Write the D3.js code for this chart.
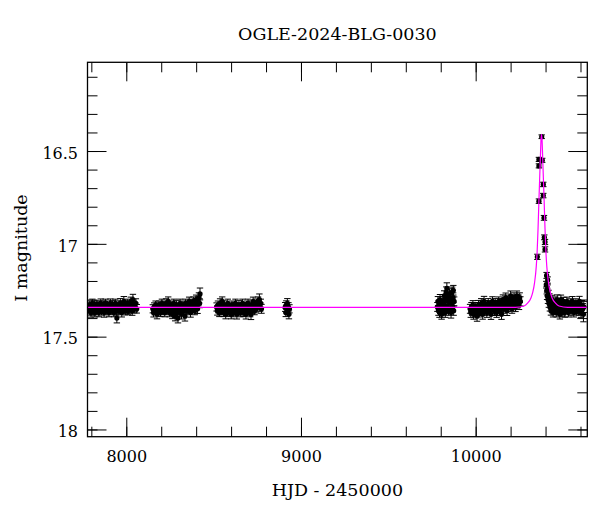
<!DOCTYPE html>
<html><head><meta charset="utf-8">
<script src="https://cdn.jsdelivr.net/npm/d3@7"></script>
<style>body{margin:0;background:#fff} svg{display:block} text{font-family:"DejaVu Serif",serif;fill:#000}</style>
</head><body><svg id="c" width="600" height="512"></svg>
<script>
const title = "OGLE-2024-BLG-0030";
const xLabel = "HJD - 2450000";
const yLabel = "I magnitude";
const xTicks = [8000, 9000, 10000];
const yTicks = [16.5, 17, 17.5, 18];
const yTickLabels = ["16.5", "17", "17.5", "18"];
const xDomain = [7778, 10639];
const yDomain = [16.022, 18.039];

// [HJD-2450000, I mag, error]
const season1 = [[7784,17.34,.022],[7788,17.36,.024],[7791,17.33,.022],[7795,17.35,.023],[7798,17.37,.025],[7802,17.34,.022],[7806,17.32,.022],[7809,17.36,.024],[7813,17.35,.022],[7817,17.33,.023],[7820,17.37,.024],[7824,17.34,.022],[7828,17.36,.023],[7832,17.33,.022],[7835,17.35,.022],[7839,17.34,.024],[7843,17.37,.023],[7847,17.33,.022],[7850,17.35,.022],[7854,17.32,.023],[7858,17.36,.024],[7862,17.34,.022],[7866,17.35,.022],[7869,17.33,.023],[7873,17.37,.025],[7877,17.34,.022],[7881,17.32,.022],[7885,17.36,.023],[7889,17.35,.022],[7893,17.33,.022],[7897,17.34,.024],[7901,17.37,.023],[7905,17.35,.022],[7909,17.32,.023],[7913,17.36,.022],[7917,17.34,.022],[7921,17.33,.024],[7925,17.35,.022],[7929,17.37,.023],[7933,17.34,.022],[7937,17.32,.022],[7941,17.36,.024],[7946,17.40,.026],[7950,17.35,.022],[7954,17.33,.023],[7958,17.36,.022],[7962,17.34,.022],[7966,17.32,.025],[7970,17.35,.022],[7974,17.37,.024],[7978,17.33,.022],[7982,17.35,.022],[7986,17.31,.026],[7990,17.34,.022],[7994,17.36,.023],[7998,17.33,.022],[8002,17.35,.024],[8006,17.32,.022],[8010,17.36,.022],[8014,17.34,.023],[8018,17.33,.022],[8022,17.35,.024],[8026,17.31,.023],[8030,17.34,.022],[8034,17.36,.025],[8038,17.30,.028],[8041,17.33,.022],[8045,17.35,.022],[8050,17.34,.023],[8055,17.32,.024],[8060,17.35,.023]];
const season2 = [[8152,17.35,.022],[8156,17.37,.024],[8160,17.34,.022],[8164,17.36,.023],[8168,17.33,.022],[8172,17.35,.022],[8176,17.38,.024],[8180,17.34,.022],[8184,17.36,.023],[8188,17.33,.022],[8192,17.35,.024],[8196,17.37,.022],[8200,17.34,.023],[8204,17.32,.022],[8208,17.36,.022],[8212,17.35,.024],[8216,17.33,.022],[8220,17.37,.023],[8224,17.34,.022],[8228,17.32,.024],[8232,17.36,.022],[8236,17.35,.022],[8240,17.31,.024],[8244,17.34,.022],[8248,17.37,.023],[8252,17.35,.022],[8256,17.33,.022],[8260,17.36,.024],[8264,17.38,.023],[8268,17.34,.022],[8272,17.32,.022],[8276,17.36,.023],[8280,17.39,.025],[8284,17.35,.022],[8288,17.33,.024],[8292,17.37,.022],[8296,17.40,.026],[8300,17.34,.022],[8304,17.36,.023],[8308,17.32,.022],[8312,17.35,.024],[8316,17.38,.025],[8320,17.34,.022],[8324,17.33,.022],[8328,17.36,.023],[8332,17.35,.024],[8336,17.39,.026],[8340,17.32,.022],[8344,17.34,.023],[8348,17.36,.022],[8352,17.33,.022],[8356,17.35,.024],[8360,17.31,.023],[8364,17.34,.022],[8368,17.37,.025],[8372,17.33,.022],[8376,17.32,.022],[8380,17.35,.023],[8384,17.31,.024],[8388,17.34,.022],[8392,17.36,.022],[8396,17.32,.023],[8400,17.30,.024],[8404,17.33,.022],[8408,17.35,.025],[8412,17.31,.024],[8416,17.29,.026],[8420,17.32,.024],[8422,17.27,.032]];
const season3 = [[8517,17.34,.022],[8521,17.36,.024],[8525,17.33,.022],[8529,17.35,.023],[8533,17.37,.022],[8537,17.32,.024],[8541,17.34,.022],[8545,17.36,.023],[8549,17.31,.024],[8553,17.35,.022],[8557,17.37,.022],[8561,17.33,.023],[8565,17.35,.022],[8569,17.38,.024],[8573,17.34,.022],[8577,17.36,.023],[8581,17.32,.022],[8585,17.35,.024],[8589,17.37,.022],[8593,17.34,.022],[8597,17.36,.023],[8601,17.38,.024],[8605,17.33,.022],[8609,17.35,.022],[8613,17.37,.023],[8617,17.34,.022],[8621,17.36,.024],[8625,17.32,.022],[8629,17.35,.023],[8633,17.38,.025],[8637,17.34,.022],[8641,17.36,.022],[8645,17.33,.024],[8649,17.35,.022],[8653,17.37,.023],[8657,17.34,.022],[8661,17.36,.024],[8665,17.32,.022],[8669,17.35,.023],[8673,17.37,.022],[8677,17.34,.024],[8681,17.36,.022],[8685,17.38,.025],[8689,17.33,.022],[8693,17.35,.023],[8697,17.32,.022],[8701,17.36,.024],[8705,17.34,.022],[8709,17.37,.023],[8714,17.38,.028],[8718,17.33,.022],[8722,17.35,.024],[8726,17.31,.023],[8730,17.34,.022],[8734,17.36,.022],[8738,17.33,.024],[8742,17.35,.022],[8746,17.32,.023],[8750,17.34,.022],[8754,17.31,.024],[8758,17.33,.022],[8762,17.30,.030],[8766,17.34,.023],[8770,17.32,.022],[8774,17.35,.024]];
const season4 = [[8910,17.34,.024],[8913,17.37,.022],[8916,17.33,.023],[8919,17.35,.022],[8922,17.32,.025],[8925,17.36,.022],[8928,17.34,.023],[8931,17.38,.024],[8934,17.35,.022]];
const season5 = [[9781,17.34,.024],[9784,17.31,.026],[9787,17.36,.025],[9790,17.33,.024],[9793,17.37,.026],[9796,17.30,.027],[9799,17.35,.024],[9802,17.32,.025],[9805,17.38,.026],[9808,17.34,.024],[9811,17.36,.025],[9814,17.31,.026],[9817,17.35,.024],[9820,17.28,.027],[9823,17.33,.025],[9826,17.37,.026],[9829,17.30,.025],[9832,17.26,.028],[9835,17.24,.030],[9838,17.34,.025],[9841,17.29,.026],[9844,17.36,.025],[9847,17.31,.026],[9850,17.27,.028],[9853,17.35,.024],[9856,17.30,.026],[9859,17.37,.030],[9862,17.32,.025],[9865,17.26,.027],[9868,17.34,.024],[9871,17.29,.026],[9872,17.25,.026],[9874,17.36,.025],[9877,17.31,.024]];
const season6 = [[9968,17.35,.024],[9972,17.37,.026],[9976,17.34,.024],[9980,17.36,.025],[9984,17.33,.024],[9988,17.38,.026],[9992,17.35,.024],[9996,17.37,.025],[10000,17.34,.024],[10004,17.36,.026],[10008,17.39,.027],[10012,17.35,.024],[10016,17.33,.025],[10020,17.37,.024],[10024,17.34,.024],[10028,17.36,.026],[10032,17.32,.025],[10036,17.35,.024],[10040,17.38,.026],[10044,17.34,.024],[10048,17.31,.027],[10052,17.36,.025],[10056,17.33,.024],[10060,17.35,.024],[10064,17.37,.026],[10068,17.34,.024],[10072,17.32,.025],[10076,17.36,.024],[10080,17.33,.024],[10084,17.35,.026],[10088,17.38,.027],[10092,17.34,.024],[10096,17.31,.025],[10100,17.35,.024],[10104,17.33,.024],[10108,17.36,.026],[10112,17.32,.025],[10116,17.34,.024],[10120,17.37,.026],[10124,17.33,.024],[10128,17.35,.025],[10132,17.31,.024],[10136,17.34,.024],[10140,17.36,.026],[10144,17.32,.025],[10148,17.38,.027],[10152,17.33,.024],[10156,17.30,.025],[10160,17.35,.024],[10164,17.32,.024],[10168,17.34,.026],[10172,17.29,.025],[10176,17.33,.024],[10180,17.36,.026],[10184,17.31,.024],[10188,17.34,.025],[10192,17.30,.024],[10196,17.33,.024],[10200,17.28,.026],[10204,17.32,.025],[10208,17.35,.024],[10212,17.30,.024],[10216,17.33,.025],[10220,17.29,.026],[10224,17.32,.024],[10228,17.34,.025],[10232,17.30,.024],[10236,17.28,.026],[10240,17.32,.024],[10244,17.30,.025],[10248,17.33,.024],[10252,17.29,.026],[10256,17.31,.025]];
const season7 = [[10353,17.07,.014],[10362,16.77,.012],[10362,16.545,.011],[10362,16.58,.011],[10378,16.423,.010],[10381,16.55,.011],[10387,16.68,.012],[10387,16.74,.012],[10391,16.86,.013],[10393,16.965,.013],[10397,16.99,.014],[10397,17.03,.014],[10406,17.17,.016],[10412,17.195,.017],[10404,17.22,.018],[10407,17.25,.02],[10409,17.28,.02],[10412,17.24,.019],[10414,17.30,.021],[10417,17.27,.02],[10419,17.32,.022],[10422,17.29,.021],[10425,17.34,.022],[10428,17.31,.022],[10431,17.36,.024],[10434,17.33,.022],[10437,17.30,.023],[10440,17.35,.022],[10443,17.37,.024],[10446,17.32,.022],[10449,17.34,.023],[10452,17.36,.022],[10455,17.31,.024],[10458,17.35,.022],[10461,17.33,.023],[10464,17.37,.024],[10467,17.30,.025],[10470,17.34,.022],[10473,17.36,.023],[10476,17.32,.022],[10479,17.35,.024],[10482,17.38,.025],[10485,17.33,.022],[10488,17.30,.024],[10491,17.35,.022],[10494,17.37,.023],[10497,17.33,.022],[10500,17.36,.024],[10503,17.31,.022],[10506,17.34,.023],[10510,17.37,.025],[10514,17.33,.022],[10518,17.35,.024],[10522,17.31,.023],[10526,17.34,.022],[10530,17.37,.024],[10534,17.33,.023],[10538,17.35,.022],[10542,17.32,.024],[10546,17.36,.025],[10550,17.33,.022],[10554,17.31,.026],[10558,17.35,.023],[10562,17.37,.024],[10566,17.33,.022],[10570,17.35,.025],[10574,17.32,.024],[10578,17.36,.023],[10582,17.34,.026],[10586,17.33,.024],[10590,17.36,.025],[10594,17.31,.027],[10598,17.35,.024],[10603,17.37,.026],[10608,17.33,.025],[10613,17.35,.028],[10617,17.38,.040],[10619,17.34,.030]];

// model curve: [HJD-2450000, I mag]
const model = [[7700,17.342],[10227,17.342],[10277,17.335],[10297,17.32],[10317,17.29],[10327,17.26],[10337,17.21],[10347,17.12],[10352,17.04],[10357,16.92],[10362,16.77],[10367,16.63],[10371,16.52],[10374,16.44],[10377,16.41],[10380,16.44],[10383,16.52],[10387,16.63],[10392,16.77],[10397,16.92],[10402,17.04],[10407,17.12],[10417,17.21],[10427,17.26],[10437,17.29],[10457,17.32],[10477,17.335],[10527,17.342],[10700,17.342]];

const svg = d3.select("#c");
const L = 87.5, R = 587.3, T = 62.3, B = 436.7;
const x = d3.scaleLinear().domain(xDomain).range([L, R]);
const y = d3.scaleLinear().domain(yDomain).range([T, B]);

svg.append("defs").append("clipPath").attr("id","clip")
  .append("rect").attr("x",L).attr("y",T).attr("width",R-L).attr("height",B-T);

const data = [].concat(season1, season2, season3, season4, season5, season6, season7);

const pts = svg.append("g").attr("clip-path","url(#clip)");
const cap = 3.2;
const eb = pts.append("g").attr("stroke","#000").attr("stroke-width",1).attr("fill","none");
data.forEach(d => {
  const px = x(d[0]), y1 = y(d[1]-d[2]), y2 = y(d[1]+d[2]);
  eb.append("path").attr("d", `M${px},${y1}V${y2}M${px-cap},${y1}H${px+cap}M${px-cap},${y2}H${px+cap}`);
});
pts.append("g").selectAll("circle").data(data).join("circle")
  .attr("cx", d => x(d[0])).attr("cy", d => y(d[1])).attr("r", 2.6).attr("fill","#000");

pts.append("path").datum(model)
  .attr("d", d3.line().x(d => x(d[0])).y(d => y(d[1])).curve(d3.curveMonotoneX))
  .attr("fill","none").attr("stroke","#ff00ff").attr("stroke-width",1.2);

// axes
const xMinor = d3.range(7800, 10601, 200);
const yMinor = d3.range(16.1, 18.01, 0.1).map(v => +v.toFixed(2));
function style(g){ g.select(".domain").remove(); g.selectAll("line").attr("stroke","#000").attr("stroke-width",1); }

svg.append("g").attr("transform",`translate(0,${B})`)
  .call(d3.axisBottom(x).tickValues(xMinor).tickSize(-10).tickFormat("")).call(style);
svg.append("g").attr("transform",`translate(0,${B})`)
  .call(d3.axisBottom(x).tickValues(xTicks).tickSize(-19).tickPadding(13.5).tickFormat(d3.format("d"))).call(style)
  .selectAll("text").attr("font-size",16).attr("font-family","DejaVu Serif");
svg.append("g").attr("transform",`translate(0,${T})`)
  .call(d3.axisTop(x).tickValues(xMinor).tickSize(-10).tickFormat("")).call(style);
svg.append("g").attr("transform",`translate(0,${T})`)
  .call(d3.axisTop(x).tickValues(xTicks).tickSize(-19).tickFormat("")).call(style);

svg.append("g").attr("transform",`translate(${L},0)`)
  .call(d3.axisLeft(y).tickValues(yMinor).tickSize(-10).tickFormat("")).call(style);
svg.append("g").attr("transform",`translate(${L},0)`)
  .call(d3.axisLeft(y).tickValues(yTicks).tickSize(-19).tickPadding(9.5).tickFormat((d,i) => yTickLabels[i])).call(style)
  .selectAll("text").attr("font-size",16).attr("font-family","DejaVu Serif").attr("dy","0.45em");
svg.append("g").attr("transform",`translate(${R},0)`)
  .call(d3.axisRight(y).tickValues(yMinor).tickSize(-10).tickFormat("")).call(style);
svg.append("g").attr("transform",`translate(${R},0)`)
  .call(d3.axisRight(y).tickValues(yTicks).tickSize(-19).tickFormat("")).call(style);

svg.append("rect").attr("x",L).attr("y",T).attr("width",R-L).attr("height",B-T)
  .attr("fill","none").attr("stroke","#000").attr("stroke-width",1.3);

svg.append("text").attr("x",(L+R)/2).attr("y",40).attr("text-anchor","middle")
  .attr("font-size",17.5).text(title);
svg.append("text").attr("x",(L+R)/2).attr("y",496).attr("text-anchor","middle")
  .attr("font-size",17.5).text(xLabel);
svg.append("text").attr("transform","translate(27,248) rotate(-90)").attr("text-anchor","middle")
  .attr("font-size",17.5).text(yLabel);
</script></body></html>
